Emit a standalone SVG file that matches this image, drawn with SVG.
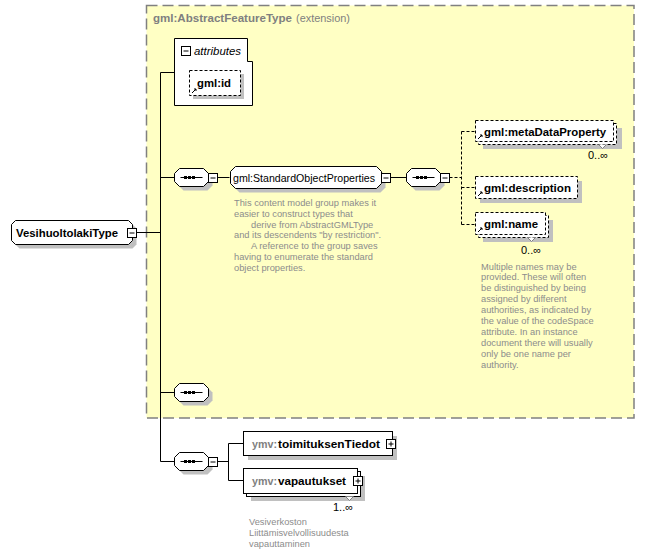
<svg xmlns="http://www.w3.org/2000/svg" width="645" height="554" viewBox="0 0 645 554">
<style>
.bg{fill:#fff}
.ext{fill:#ffffc4;stroke:#808080;stroke-width:1.5;stroke-dasharray:11,5}
.sh{fill:#c0c0c0;stroke:none}
.box{fill:#fff;stroke:#000;stroke-width:1}
.dbox{fill:#fff;stroke:#000;stroke-width:1;stroke-dasharray:3,2}
.ln{fill:none;stroke:#000;stroke-width:1}
.dln{fill:none;stroke:#000;stroke-width:1;stroke-dasharray:3,2}
.t{font-family:"Liberation Sans",Arial,sans-serif;font-size:11px;fill:#000}
.b{font-weight:bold}
.g{fill:#808080}
.ann{font-family:"Liberation Sans",Arial,sans-serif;font-size:9.3px;fill:#8c8c8c}
.dot{fill:#000}
</style>
<rect class="bg" x="0" y="0" width="645" height="554"/>
<g id="extension">
<rect class="ext" x="146.5" y="5.5" width="487.5" height="412.5"/>
<text class="t b g" x="153" y="22" textLength="139" lengthAdjust="spacingAndGlyphs">gml:AbstractFeatureType</text>
<text class="t g" x="296" y="22" textLength="54" lengthAdjust="spacingAndGlyphs">(extension)</text>
</g>
<g id="connectors">
<path class="ln" d="M136.5,232.5H160.5M160.5,72.5V461.5M160.5,72.5H174.5M160.5,177.5H174.5M160.5,392.5H174.5M160.5,461.5H174.5"/>
<path class="ln" d="M217.5,177.5H229.5M390.5,177.5H406.5"/>
<path class="dln" d="M449.5,177.5H461.5M461.5,131.5V224.5M461.5,131.5H475.5M461.5,187.5H475.5M461.5,224.5H475.5"/>
<path class="ln" d="M217.5,461.5H228.5M228.5,443.5V480.5M228.5,443.5H243.5M228.5,480.5H243.5"/>
</g>
<g id="VesihuoltolakiType">
<path class="sh" d="M19.5,224.5H132.5L136.5,228.5V244.5L132.5,248.5H19.5L15.5,244.5V228.5Z"/>
<path class="box" d="M15.5,220.5H128.5L132.5,224.5V240.5L128.5,244.5H15.5L11.5,240.5V224.5Z"/>
<text class="t b" x="16" y="236.5" textLength="102" lengthAdjust="spacingAndGlyphs">VesihuoltolakiType</text>
<rect class="box" x="127.5" y="228.5" width="9" height="9"/>
<path class="ln" d="M129.5,233H134.5"/>
</g>
<g id="attributes">
<path class="box" d="M174.5,38.5H247.5V61.5H252.5V105.5H174.5Z"/>
<rect class="box" x="181.5" y="46.5" width="9" height="9"/>
<path class="ln" d="M183.5,51H188.5"/>
<text class="t" x="194" y="55" font-style="italic" textLength="47" lengthAdjust="spacingAndGlyphs">attributes</text>
</g>
<g id="gml_id">
<rect class="sh" x="193" y="74" width="51" height="25"/>
<rect class="dbox" x="189.5" y="70.5" width="51" height="25"/>
<text class="t b" x="197" y="87" textLength="34" lengthAdjust="spacingAndGlyphs">gml:id</text>
<path class="ln" d="M192,93L196,89M194,89H196V91"/>
</g>
<g id="seq1">
<path class="sh" d="M183.5,172.5H207.5L212.5,177.5V185.5L207.5,190.5H183.5L178.5,185.5V177.5Z"/>
<path class="box" d="M179.5,168.5H203.5L208.5,173.5V181.5L203.5,186.5H179.5L174.5,181.5V173.5Z"/>
<path class="ln" d="M180.5,177.5H202.5"/>
<rect class="dot" x="184" y="176" width="3" height="3"/><rect class="dot" x="188" y="176" width="3" height="3"/><rect class="dot" x="192" y="176" width="3" height="3"/>
<rect class="box" x="208.5" y="173.5" width="9" height="9"/>
<path class="ln" d="M210.5,178H215.5"/>
</g>
<g id="StandardObjectProperties">
<path class="sh" d="M239.5,170.5H380.5L385.5,175.5V187.5L380.5,192.5H239.5L234.5,187.5V175.5Z"/>
<path class="box" d="M235.5,166.5H376.5L381.5,171.5V183.5L376.5,188.5H235.5L230.5,183.5V171.5Z"/>
<text class="t" x="233" y="181.5" textLength="142" lengthAdjust="spacingAndGlyphs">gml:StandardObjectProperties</text>
<rect class="box" x="381.5" y="173.5" width="9" height="9"/>
<path class="ln" d="M383.5,178H388.5"/>
<text class="ann" x="234" y="206">This content model group makes it</text>
<text class="ann" x="234" y="216.8">easier to construct types that</text>
<text class="ann" x="251" y="227.6">derive from AbstractGMLType</text>
<text class="ann" x="234" y="238.4">and its descendents "by restriction".</text>
<text class="ann" x="251" y="249.2">A reference to the group saves</text>
<text class="ann" x="234" y="260">having to enumerate the standard</text>
<text class="ann" x="234" y="270.8">object properties.</text>
</g>
<g id="seq2">
<path class="sh" d="M415.5,172.5H439.5L444.5,177.5V185.5L439.5,190.5H415.5L410.5,185.5V177.5Z"/>
<path class="box" d="M411.5,168.5H435.5L440.5,173.5V181.5L435.5,186.5H411.5L406.5,181.5V173.5Z"/>
<path class="ln" d="M412.5,177.5H434.5"/>
<rect class="dot" x="416" y="176" width="3" height="3"/><rect class="dot" x="420" y="176" width="3" height="3"/><rect class="dot" x="424" y="176" width="3" height="3"/>
<rect class="box" x="440.5" y="173.5" width="9" height="9"/>
<path class="ln" d="M442.5,178H447.5"/>
</g>
<g id="metaDataProperty">
<rect class="sh" x="483" y="128" width="139" height="21"/>
<rect class="dbox" x="478.5" y="123.5" width="138" height="21"/>
<rect class="dbox" x="475.5" y="120.5" width="138" height="21"/>
<text class="t b" x="484" y="135.5" textLength="122" lengthAdjust="spacingAndGlyphs">gml:metaDataProperty</text>
<path class="ln" d="M478,139L482,135M480,135H482V137"/>
<path d="M598.5,144.5L602.5,148.5L606.5,144.5" fill="#fff" stroke="#808080"/>
<text class="t" x="588" y="159">0..∞</text>
</g>
<g id="description">
<rect class="sh" x="480" y="181" width="102" height="22"/>
<rect class="dbox" x="475.5" y="176.5" width="102" height="22"/>
<text class="t b" x="484" y="191.5" textLength="87" lengthAdjust="spacingAndGlyphs">gml:description</text>
<path class="ln" d="M478,196L482,192M480,192H482V194"/>
</g>
<g id="name">
<rect class="sh" x="483" y="220" width="70" height="22"/>
<rect class="dbox" x="478.5" y="215.5" width="70" height="22"/>
<rect class="dbox" x="475.5" y="212.5" width="70" height="22"/>
<text class="t b" x="484" y="228" textLength="54" lengthAdjust="spacingAndGlyphs">gml:name</text>
<path class="ln" d="M478,232L482,228M480,228H482V230"/>
<path d="M527.5,237.5L531.5,241.5L535.5,237.5" fill="#fff" stroke="#808080"/>
<text class="t" x="521" y="254">0..∞</text>
<text class="ann" x="481" y="269.5">Multiple names may be</text>
<text class="ann" x="481" y="280.4">provided.  These will often</text>
<text class="ann" x="481" y="291.3">be distinguished by being</text>
<text class="ann" x="481" y="302.2">assigned by different</text>
<text class="ann" x="481" y="313.1">authorities, as indicated by</text>
<text class="ann" x="481" y="324">the value of the codeSpace</text>
<text class="ann" x="481" y="334.9">attribute.  In an instance</text>
<text class="ann" x="481" y="345.8">document there will usually</text>
<text class="ann" x="481" y="356.7">only be one name per</text>
<text class="ann" x="481" y="367.6">authority.</text>
</g>
<g id="seq3">
<path class="sh" d="M183.5,387.5H207.5L212.5,392.5V400.5L207.5,405.5H183.5L178.5,400.5V392.5Z"/>
<path class="box" d="M179.5,383.5H203.5L208.5,388.5V396.5L203.5,401.5H179.5L174.5,396.5V388.5Z"/>
<path class="ln" d="M180.5,392.5H202.5"/>
<rect class="dot" x="184" y="391" width="3" height="3"/><rect class="dot" x="188" y="391" width="3" height="3"/><rect class="dot" x="192" y="391" width="3" height="3"/>
</g>
<g id="seq4">
<path class="sh" d="M183.5,456.5H207.5L212.5,461.5V469.5L207.5,474.5H183.5L178.5,469.5V461.5Z"/>
<path class="box" d="M179.5,452.5H203.5L208.5,457.5V465.5L203.5,470.5H179.5L174.5,465.5V457.5Z"/>
<path class="ln" d="M180.5,461.5H202.5"/>
<rect class="dot" x="184" y="460" width="3" height="3"/><rect class="dot" x="188" y="460" width="3" height="3"/><rect class="dot" x="192" y="460" width="3" height="3"/>
<rect class="box" x="208.5" y="457.5" width="9" height="9"/>
<path class="ln" d="M210.5,462H215.5"/>
</g>
<g id="toimituksenTiedot">
<rect class="sh" x="248" y="436" width="149" height="24"/>
<rect class="box" x="243.5" y="431.5" width="149" height="24"/>
<text class="t b g" x="252" y="447.5" textLength="25" lengthAdjust="spacingAndGlyphs">ymv:</text>
<text class="t b" x="278" y="447.5" textLength="102" lengthAdjust="spacingAndGlyphs">toimituksenTiedot</text>
<rect class="box" x="386.5" y="439.5" width="9" height="9"/>
<path class="ln" d="M388.5,444H393.5M391,441.5V446.5"/>
</g>
<g id="vapautukset">
<rect class="sh" x="251" y="476" width="114" height="25"/>
<rect class="box" x="246.5" y="471.5" width="114" height="25"/>
<rect class="box" x="243.5" y="468.5" width="114" height="25"/>
<text class="t b g" x="252" y="485" textLength="25" lengthAdjust="spacingAndGlyphs">ymv:</text>
<text class="t b" x="278" y="485" textLength="68" lengthAdjust="spacingAndGlyphs">vapautukset</text>
<rect class="box" x="353.5" y="476.5" width="9" height="9"/>
<path class="ln" d="M355.5,481H360.5M358,478.5V483.5"/>
<path d="M345.5,496.5L349.5,500.5L353.5,496.5" fill="#fff" stroke="#808080"/>
<text class="t" x="333" y="511">1..∞</text>
<text class="ann" x="249" y="525">Vesiverkoston</text>
<text class="ann" x="249" y="536">Liittämisvelvollisuudesta</text>
<text class="ann" x="249" y="547">vapauttaminen</text>
</g>
</svg>
